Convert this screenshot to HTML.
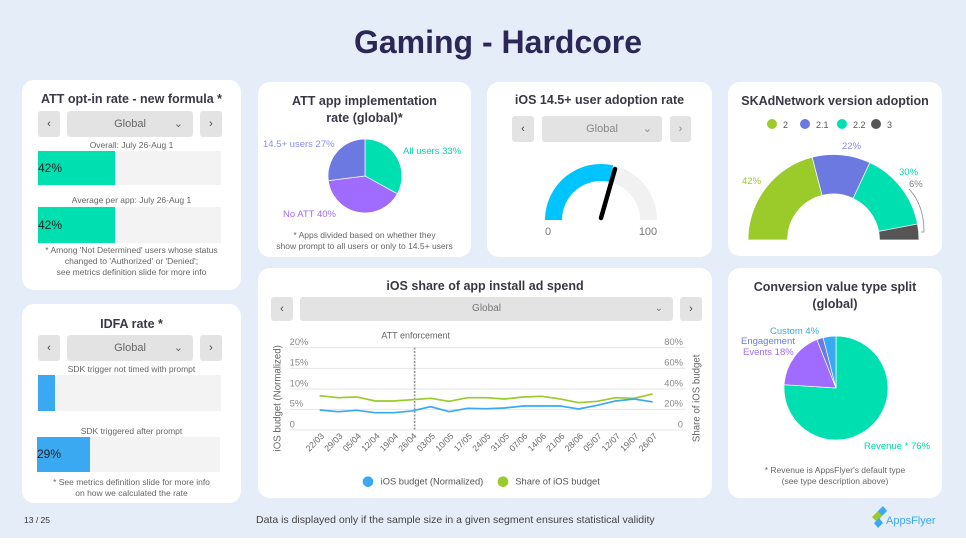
<!DOCTYPE html>
<html><head><meta charset="utf-8"><style>
*{margin:0;padding:0;box-sizing:border-box}
body{width:966px;height:546px;background:#e4edf8;font-family:"Liberation Sans",sans-serif;position:relative;overflow:hidden;color:#333}
.card{position:absolute;background:#fff;border-radius:12px}
.t{position:absolute;left:0;right:0;text-align:center;font-weight:bold;font-size:12.5px;color:#3a3845}
.s{position:absolute;text-align:center;font-size:8.5px;color:#666;line-height:11px}
.btn{position:absolute;background:#e3e3e3;border-radius:3px;font-size:11px;color:#444;text-align:center}
.abs{position:absolute}
</style></head><body>
<div class="abs" style="left:0;top:24px;width:996px;text-align:center;font-size:32px;font-weight:bold;color:#2b2858">Gaming - Hardcore</div>
<div class="abs" style="left:0;top:538px;width:966px;height:8px;background:#fff"></div>

<!-- Card A -->
<div class="card" style="left:22px;top:80px;width:219px;height:210px">
 <div class="t" style="top:12px">ATT opt-in rate - new formula *</div>
 <div class="btn" style="left:16px;top:31px;width:22px;height:26px;line-height:26px">‹</div>
 <div class="btn" style="left:45px;top:31px;width:126px;height:26px;line-height:26px;color:#666">Global<span style="position:absolute;right:10px">⌄</span></div>
 <div class="btn" style="left:178px;top:31px;width:22px;height:26px;line-height:26px">›</div>
 <div class="s" style="left:0;right:0;top:60px">Overall: July 26-Aug 1</div>
 <div class="abs" style="left:16px;top:71px;width:183px;height:34px;background:#f3f3f3"></div>
 <div class="abs" style="left:16px;top:71px;width:77px;height:34px;background:#00dfb0;font-size:12px;line-height:34px;color:#222">42%</div>
 <div class="s" style="left:0;right:0;top:115px">Average per app: July 26-Aug 1</div>
 <div class="abs" style="left:16px;top:127px;width:183px;height:36px;background:#f3f3f3"></div>
 <div class="abs" style="left:16px;top:127px;width:77px;height:36px;background:#00dfb0;font-size:12px;line-height:36px;color:#222">42%</div>
 <div class="s" style="left:0;right:0;top:165px">* Among 'Not Determined' users whose status<br>changed to 'Authorized' or 'Denied';<br>see metrics definition slide for more info</div>
</div>

<!-- Card E -->
<div class="card" style="left:22px;top:304px;width:219px;height:199px">
 <div class="t" style="top:13px">IDFA rate *</div>
 <div class="btn" style="left:16px;top:31px;width:22px;height:26px;line-height:26px">‹</div>
 <div class="btn" style="left:45px;top:31px;width:126px;height:26px;line-height:26px;color:#666">Global<span style="position:absolute;right:10px">⌄</span></div>
 <div class="btn" style="left:178px;top:31px;width:22px;height:26px;line-height:26px">›</div>
 <div class="s" style="left:0;right:0;top:60px">SDK trigger not timed with prompt</div>
 <div class="abs" style="left:16px;top:71px;width:183px;height:36px;background:#f3f3f3"></div>
 <div class="abs" style="left:16px;top:71px;width:17px;height:36px;background:#3aa9f2"></div>
 <div class="s" style="left:0;right:0;top:122px">SDK triggered after prompt</div>
 <div class="abs" style="left:15px;top:133px;width:183px;height:35px;background:#f3f3f3"></div>
 <div class="abs" style="left:15px;top:133px;width:53px;height:35px;background:#3aa9f2;font-size:12px;line-height:35px;color:#222">29%</div>
 <div class="s" style="left:0;right:0;top:173px">* See metrics definition slide for more info<br>on how we calculated the rate</div>
</div>

<!-- Card B -->
<div class="card" style="left:258px;top:82px;width:213px;height:175px">
 <div class="t" style="top:11px;line-height:17px">ATT app implementation<br>rate (global)*</div>
 <div class="s" style="left:0;right:0;top:148px">* Apps divided based on whether they<br>show prompt to all users or only to 14.5+ users</div>
</div>

<!-- Card C -->
<div class="card" style="left:487px;top:82px;width:225px;height:175px">
 <div class="t" style="top:11px">iOS 14.5+ user adoption rate</div>
 <div class="btn" style="left:25px;top:34px;width:22px;height:26px;line-height:26px">‹</div>
 <div class="btn" style="left:55px;top:34px;width:120px;height:26px;line-height:26px;color:#888">Global<span style="position:absolute;right:10px">⌄</span></div>
 <div class="btn" style="left:183px;top:34px;width:21px;height:26px;line-height:26px;color:#888">›</div>
</div>

<!-- Card D -->
<div class="card" style="left:728px;top:82px;width:214px;height:174px">
 <div class="t" style="top:12px">SKAdNetwork version adoption</div>
</div>

<!-- Card F -->
<div class="card" style="left:258px;top:268px;width:454px;height:230px">
 <div class="t" style="top:11px">iOS share of app install ad spend</div>
 <div class="btn" style="left:13px;top:29px;width:22px;height:24px;line-height:24px">‹</div>
 <div class="btn" style="left:42px;top:29px;width:373px;height:24px;line-height:24px;color:#777;font-size:10px">Global<span style="position:absolute;right:10px">⌄</span></div>
 <div class="btn" style="left:422px;top:29px;width:22px;height:24px;line-height:24px">›</div>
</div>

<!-- Card G -->
<div class="card" style="left:728px;top:268px;width:214px;height:230px">
 <div class="t" style="top:11px;line-height:17px">Conversion value type split<br>(global)</div>
 <div class="s" style="left:0;right:0;top:197px">* Revenue is AppsFlyer's default type<br>(see type description above)</div>
</div>

<svg class="abs" style="left:0;top:0" width="966" height="546" font-family="Liberation Sans, sans-serif">
 <!-- Pie B -->
 <path d="M365,176 L365,139 A37,37 0 0 1 397.4,193.8 Z" fill="#00dfb0" stroke="#fff" stroke-width="0.7"/>
 <path d="M365,176 L397.4,193.8 A37,37 0 0 1 328.3,180.6 Z" fill="#a06bff" stroke="#fff" stroke-width="0.7"/>
 <path d="M365,176 L328.3,180.6 A37,37 0 0 1 365,139 Z" fill="#6b79e0" stroke="#fff" stroke-width="0.7"/>
 <text x="263" y="147" font-size="9.5" fill="#8a8cf0">14.5+ users 27%</text>
 <text x="403" y="154" font-size="9.5" fill="#00d8a8">All users 33%</text>
 <text x="283" y="217" font-size="9.5" fill="#a06bff">No ATT 40%</text>
 <!-- Gauge -->
 <path d="M545,220 A56,56 0 0 1 657,220 L640,220 A39,39 0 0 0 562,220 Z" fill="#f1f1f1"/>
 <path d="M545,220 A56,56 0 0 1 613.2,165.3 L609.5,181.9 A39,39 0 0 0 562,220 Z" fill="#00c4ff"/>
 <line x1="601" y1="218" x2="615" y2="169" stroke="#000" stroke-width="4.5" stroke-linecap="round"/>
 <text x="548" y="235" font-size="11" fill="#777" text-anchor="middle">0</text>
 <text x="648" y="235" font-size="11" fill="#777" text-anchor="middle">100</text>
 <!-- SKAd legend -->
 <circle cx="772" cy="124" r="5" fill="#9bca2b"/><text x="783" y="128" font-size="9" fill="#555">2</text>
 <circle cx="805" cy="124" r="5" fill="#6b79e0"/><text x="816" y="128" font-size="9" fill="#555">2.1</text>
 <circle cx="842" cy="124" r="5" fill="#00dfb0"/><text x="853" y="128" font-size="9" fill="#555">2.2</text>
 <circle cx="876" cy="124" r="5" fill="#555"/><text x="887" y="128" font-size="9" fill="#555">3</text>
 <!-- SKAd donut -->
 <path d="M748,240 A85.5,85.5 0 0 1 812.2,157.2 L822.1,195.4 A46,46 0 0 0 787.5,240 Z" fill="#9bca2b" stroke="#fff" stroke-width="0.7"/>
 <path d="M812.2,157.2 A85.5,85.5 0 0 1 869.9,162.6 L853.1,198.4 A46,46 0 0 0 822.1,195.4 Z" fill="#6b79e0" stroke="#fff" stroke-width="0.7"/>
 <path d="M869.9,162.6 A85.5,85.5 0 0 1 917.5,224 L878.7,231.4 A46,46 0 0 0 853.1,198.4 Z" fill="#00dfb0" stroke="#fff" stroke-width="0.7"/>
 <path d="M917.5,224 A85.5,85.5 0 0 1 919,240 L879.5,240 A46,46 0 0 0 878.7,231.4 Z" fill="#555" stroke="#fff" stroke-width="0.7"/>
 <text x="742" y="184" font-size="9.5" fill="#9bca2b">42%</text>
 <text x="842" y="149" font-size="9.5" fill="#8a8cf0">22%</text>
 <text x="899" y="175" font-size="9.5" fill="#00d8a8">30%</text>
 <text x="909" y="187" font-size="9.5" fill="#888">6%</text>
 <path d="M909,189 Q924,205 924,232 L921,232" fill="none" stroke="#888" stroke-width="0.8"/>
 <!-- Pie G -->
 <path d="M836,388 L836,336 A52,52 0 1 1 784.1,384.7 Z" fill="#00dfb0" stroke="#fff" stroke-width="0.7"/>
 <path d="M836,388 L784.1,384.7 A52,52 0 0 1 816.9,339.6 Z" fill="#a06bff" stroke="#fff" stroke-width="0.7"/>
 <path d="M836,388 L816.9,339.6 A52,52 0 0 1 823.1,337.6 Z" fill="#6b79e0" stroke="#fff" stroke-width="0.7"/>
 <path d="M836,388 L823.1,337.6 A52,52 0 0 1 836,336 Z" fill="#3aa9f2" stroke="#fff" stroke-width="0.7"/>
 <text x="770" y="334" font-size="9.5" fill="#3aa9f2">Custom 4%</text>
 <text x="741" y="344" font-size="9.5" fill="#6b79e0">Engagement</text>
 <text x="743" y="355" font-size="9.5" fill="#a06bff">Events 18%</text>
 <text x="864" y="449" font-size="9.5" fill="#00d8a8">Revenue * 76%</text>
 <!-- Line chart in zoom coords -->
 <g transform="translate(258,270) scale(0.3333)">
  <g stroke="#e6e6e6" stroke-width="3">
   <line x1="95" y1="233" x2="1283" y2="233"/><line x1="95" y1="295" x2="1283" y2="295"/>
   <line x1="95" y1="357" x2="1283" y2="357"/><line x1="95" y1="418" x2="1283" y2="418"/>
   <line x1="95" y1="480" x2="1283" y2="480"/>
  </g>
  <g font-size="28" fill="#888">
   <text x="95" y="225">20%</text><text x="95" y="287">15%</text><text x="95" y="349">10%</text><text x="95" y="410">5%</text><text x="95" y="472">0</text>
   <text x="1275" y="225" text-anchor="end">80%</text><text x="1275" y="287" text-anchor="end">60%</text><text x="1275" y="349" text-anchor="end">40%</text><text x="1275" y="410" text-anchor="end">20%</text><text x="1275" y="472" text-anchor="end">0</text>
   <text x="0" y="0" transform="translate(68,385) rotate(-90)" text-anchor="middle" font-size="29" fill="#666">iOS budget (Normalized)</text>
   <text x="0" y="0" transform="translate(1325,385) rotate(-90)" text-anchor="middle" font-size="29" fill="#666">Share of iOS budget</text>
   <text x="473" y="206" text-anchor="middle" font-size="27" fill="#666">ATT enforcement</text>
  </g>
  <line x1="470" y1="233" x2="470" y2="480" stroke="#999" stroke-width="5" stroke-dasharray="6,4"/>
  <polyline fill="none" stroke="#9bca2b" stroke-width="5" points="185,377 240.5,383 296,381 351.5,393 407,393 462.5,389 518,385 573.5,394 629,383 684.5,383 740,387 795.5,381 851,379 906.5,387 962,398 1017.5,394 1073,383 1128.5,385 1184,372"/>
  <polyline fill="none" stroke="#3aa9f2" stroke-width="5" points="185,420 240.5,425 296,421 351.5,428 407,428 462.5,423 518,410 573.5,425 629,415 684.5,416 740,414 795.5,408 851,408 906.5,408 962,417 1017.5,406 1073,393 1128.5,387 1184,396"/>
  <g font-size="26" fill="#666" text-anchor="end">
   <text transform="translate(200,500) rotate(-45)">22/03</text><text transform="translate(255.5,500) rotate(-45)">29/03</text><text transform="translate(311,500) rotate(-45)">05/04</text><text transform="translate(366.5,500) rotate(-45)">12/04</text><text transform="translate(422,500) rotate(-45)">19/04</text><text transform="translate(477.5,500) rotate(-45)">26/04</text><text transform="translate(533,500) rotate(-45)">03/05</text><text transform="translate(588.5,500) rotate(-45)">10/05</text><text transform="translate(644,500) rotate(-45)">17/05</text><text transform="translate(699.5,500) rotate(-45)">24/05</text><text transform="translate(755,500) rotate(-45)">31/05</text><text transform="translate(810.5,500) rotate(-45)">07/06</text><text transform="translate(866,500) rotate(-45)">14/06</text><text transform="translate(921.5,500) rotate(-45)">21/06</text><text transform="translate(977,500) rotate(-45)">28/06</text><text transform="translate(1032.5,500) rotate(-45)">05/07</text><text transform="translate(1088,500) rotate(-45)">12/07</text><text transform="translate(1143.5,500) rotate(-45)">19/07</text><text transform="translate(1199,500) rotate(-45)">26/07</text>
  </g>
  <circle cx="330" cy="635" r="16" fill="#3aa9f2"/><text x="368" y="644" font-size="28" fill="#555">iOS budget (Normalized)</text>
  <circle cx="735" cy="635" r="16" fill="#9bca2b"/><text x="772" y="644" font-size="28" fill="#555">Share of iOS budget</text>
 </g>
 <text x="24" y="523" font-size="8.5" fill="#333">13 / 25</text>
 <text x="256" y="523" font-size="10.5" fill="#444">Data is displayed only if the sample size in a given segment ensures statistical validity</text>
 <path d="M872,517 l6,-6 l4,5 l-5,6 Z" fill="#9bca2b"/><path d="M878,511 l5,-5 l4,5 l-5,5 Z" fill="#3aa9f2"/><path d="M874,523 l5,-5 l4,5 l-5,5 Z" fill="#3aa9f2"/>
 <text x="886" y="524" font-size="11" fill="#3aa9f2">AppsFlyer</text>
</svg>
</body></html>
